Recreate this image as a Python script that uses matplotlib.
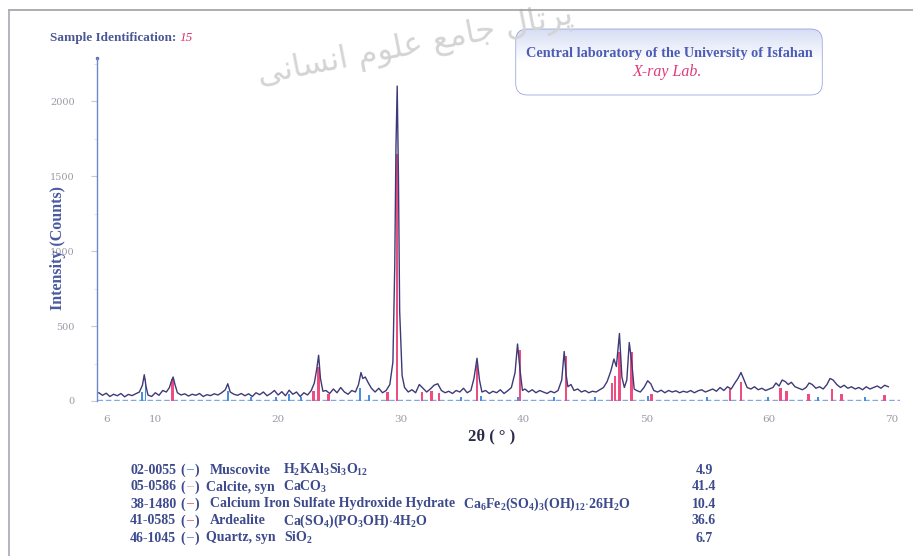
import matplotlib
matplotlib.use("Agg")
import matplotlib.pyplot as plt
from matplotlib.patches import FancyBboxPatch
import numpy as np

plt.rcParams['font.family'] = ['Liberation Serif', 'DejaVu Serif']
plt.rcParams['mathtext.fontset'] = 'custom'
plt.rcParams['mathtext.rm'] = 'Liberation Serif:bold'
plt.rcParams['mathtext.it'] = 'Liberation Serif:italic:bold'
plt.rcParams['mathtext.bf'] = 'Liberation Serif:bold'

W, H = 913, 556

# measured pattern: 2-theta (deg) and counts
two_theta = [5.4, 5.7, 6.0, 6.3, 6.6, 6.9, 7.2, 7.5, 7.8, 8.1, 8.4, 8.7, 8.95, 9.1, 9.25, 9.4,
             9.7, 10.0, 10.3, 10.6, 10.9, 11.15, 11.3, 11.45, 11.6, 11.8, 12.1, 12.4, 12.7, 13.0,
             13.3, 13.6, 13.9, 14.2, 14.5, 14.8, 15.1, 15.4, 15.7, 15.9, 16.1, 16.4, 16.7, 17.0,
             17.3, 17.6, 17.9, 18.2, 18.5, 18.8, 19.1, 19.4, 19.7, 20.0, 20.3, 20.6, 20.9, 21.2,
             21.5, 21.8, 22.1, 22.4, 22.7, 22.95, 23.15, 23.3, 23.45, 23.65, 23.9, 24.2, 24.5,
             24.8, 25.1, 25.4, 25.7, 26.0, 26.3, 26.55, 26.75, 26.9, 27.1, 27.35, 27.6, 27.9,
             28.2, 28.5, 28.8, 29.1, 29.35, 29.5, 29.6, 29.7, 29.8, 29.9, 30.1, 30.3, 30.6, 30.9,
             31.2, 31.5, 31.8, 32.1, 32.4, 32.7, 33.0, 33.3, 33.6, 33.9, 34.2, 34.5, 34.8, 35.1,
             35.4, 35.7, 35.95, 36.2, 36.4, 36.6, 36.9, 37.2, 37.5, 37.8, 38.1, 38.4, 38.7, 39.0,
             39.3, 39.5, 39.7, 39.9, 40.1, 40.4, 40.7, 41.0, 41.3, 41.6, 41.9, 42.2, 42.5, 42.8,
             43.1, 43.3, 43.45, 43.6, 43.85, 44.1, 44.4, 44.7, 45.0, 45.3, 45.6, 45.9, 46.2, 46.5,
             46.8, 47.1, 47.35, 47.55, 47.8, 48.0, 48.2, 48.4, 48.6, 48.8, 49.0, 49.2, 49.5, 49.8,
             50.1, 50.35, 50.6, 50.9, 51.2, 51.5, 51.8, 52.1, 52.4, 52.7, 53.0, 53.3, 53.6, 53.9,
             54.2, 54.5, 54.8, 55.1, 55.4, 55.7, 56.0, 56.3, 56.6, 56.9, 57.2, 57.45, 57.7, 57.95,
             58.2, 58.5, 58.8, 59.1, 59.4, 59.7, 60.0, 60.3, 60.55, 60.8, 61.05, 61.3, 61.55, 61.8,
             62.1, 62.4, 62.7, 63.0, 63.25, 63.5, 63.8, 64.1, 64.4, 64.7, 64.95, 65.2, 65.5, 65.8,
             66.1, 66.4, 66.7, 67.0, 67.3, 67.6, 67.9, 68.2, 68.5, 68.8, 69.1, 69.4, 69.7]
counts = [55, 38, 52, 30, 45, 35, 50, 28, 44, 36, 48, 60, 105, 175, 95, 40,
          30, 55, 38, 70, 60, 90, 130, 160, 110, 55, 40, 48, 33, 45,
          38, 50, 30, 42, 36, 48, 40, 55, 75, 115, 60, 45, 38, 50,
          35, 48, 30, 55, 42, 60, 35, 50, 70, 40, 62, 35, 72, 45,
          60, 30, 55, 40, 70, 120, 215, 305, 150, 65, 70, 50, 80,
          55, 90, 60, 45, 70, 60, 110, 190, 150, 160, 120, 85, 60,
          85, 55, 70, 110, 260, 900, 1700, 2100, 1500, 600, 170, 90, 60, 75,
          55, 110, 85, 60, 80, 105, 115, 70, 55, 65, 50, 70, 60, 85,
          55, 70, 150, 285, 140, 60, 70, 50, 65, 55, 75, 50, 68, 90,
          190, 380, 210, 70, 80, 60, 75, 55, 70, 60, 50, 65, 55, 70,
          140, 330, 180, 95, 110, 70, 80, 60, 70, 55, 65, 60, 75, 90,
          130, 200, 280, 230, 450, 160, 90, 140, 390, 260, 80, 70, 60, 90,
          135, 115, 70, 60, 72, 55, 70, 60, 68, 55, 65, 58, 70, 55,
          68, 75, 60, 70, 80, 65, 90, 70, 95, 80, 120, 150, 190, 140,
          90, 80, 95, 75, 85, 70, 80, 90, 120, 100, 140, 130, 110, 125,
          95, 85, 75, 90, 120, 110, 85, 95, 80, 110, 150, 140, 110, 90,
          105, 85, 95, 80, 90, 75, 95, 80, 90, 100, 85, 105, 95]

# reference sticks (pink: calcite / ardealite / CISHH), blue: muscovite / quartz
pink_pos = [11.4, 20.9, 22.9, 23.3, 24.1, 28.9, 29.7, 31.7, 32.5, 33.1, 36.2, 39.7, 43.45,
            47.2, 47.45, 47.8, 48.8, 50.4, 56.8, 57.7, 60.9, 61.4, 63.2, 65.1, 65.9, 69.4]
pink_h = [150, 40, 70, 230, 45, 60, 1650, 60, 70, 55, 240, 340, 300,
          120, 170, 330, 330, 50, 80, 130, 90, 70, 45, 80, 45, 40]
blue_pos = [8.9, 9.2, 15.9, 17.8, 19.8, 20.9, 21.9, 26.7, 27.4, 34.9, 36.5, 39.5, 42.5,
            45.8, 50.1, 54.9, 59.9, 64.0, 67.8]
blue_h = [60, 150, 70, 25, 30, 45, 30, 90, 40, 30, 35, 30, 25, 30, 35, 25, 30, 25, 30]

y_ticks = [0, 500, 1000, 1500, 2000]
x_ticks = [6, 10, 20, 30, 40, 50, 60, 70]

phase_codes = ['02-0055', '05-0586', '38-1480', '41-0585', '46-1045']
phase_names = ['Muscovite', 'Calcite, syn', 'Calcium Iron Sulfate Hydroxide Hydrate',
               'Ardealite', 'Quartz, syn']
phase_formulas = [r'H$_\mathrm{2}$KAl$_\mathrm{3}$Si$_\mathrm{3}$O$_\mathrm{12}$',
                  r'CaCO$_\mathrm{3}$',
                  r'Ca$_\mathrm{6}$Fe$_\mathrm{2}$(SO$_\mathrm{4}$)$_\mathrm{3}$(OH)$_\mathrm{12}$$\cdot$26H$_\mathrm{2}$O',
                  r'Ca(SO$_\mathrm{4}$)(PO$_\mathrm{3}$OH)$\cdot$4H$_\mathrm{2}$O',
                  r'SiO$_\mathrm{2}$']
phase_scores = ['4.9', '41.4', '10.4', '36.6', '6.7']
phase_colors = ['#3f7fd6', '#e2a9bf', '#e8457a', '#e04a80', '#4a80d0']


def px(x, y):
    return x / W, 1 - y / H


fig = plt.figure(figsize=(W / 100, H / 100), dpi=100)
fig.patch.set_facecolor('white')

# page frame
fig.add_artist(plt.Line2D([px(9, 0)[0], 1], [px(0, 10)[1]] * 2, color='#a0a0a0', lw=1.2))
fig.add_artist(plt.Line2D([px(9, 0)[0]] * 2, [px(0, 10)[1], 0], color='#a8a8b8', lw=1.2))

# watermark
words = ['\ufb58\ufeae\ufe97\ufe8e\ufedd', '\ufe9f\ufe8e\ufee3\ufeca',
         '\ufecb\ufee0\ufeee\ufee1', '\ufe8d\ufee7\ufeb4\ufe8e\ufee7\ufef0']
mark = ' '.join(words)[::-1]
fig.text(*px(415, 46), mark, family='DejaVu Sans', fontsize=23, color='#d4d4d4',
         rotation=11, ha='center', va='center', zorder=0)

# chart
left, right, top, bottom = 97, 900, 58, 401
ax = fig.add_axes([left / W, 1 - bottom / H, (right - left) / W, (bottom - top) / H])
ax.set_facecolor('none')
ax.set_xlim(5.25, 70.65)
ax.set_ylim(0, 2287)

ax.bar(pink_pos, pink_h, width=0.2, color='#ef4d82', zorder=2)
ax.bar(blue_pos, blue_h, width=0.16, color='#4a8ee0', zorder=2)
ax.axhline(8, color='#7fa8e8', lw=1.0, ls=(0, (4, 2)), zorder=1)
ax.plot(two_theta, counts, color='#3d3a78', lw=1.0, zorder=3)

for s in ['top', 'right', 'bottom']:
    ax.spines[s].set_visible(False)
ax.spines['left'].set_color('#6f86c8')
ax.spines['left'].set_linewidth(1.0)
ax.plot([5.25], [2287], marker='.', color='#5a6aa8', ms=3, clip_on=False)

ax.set_yticks(y_ticks)
ax.set_yticklabels([str(v) for v in y_ticks], family='DejaVu Serif')
ax.set_yticks(np.arange(0, 2287, 250), minor=True)
ax.tick_params(axis='y', which='major', length=4, width=0.8, color='#c8c8d0',
               labelsize=7, labelcolor='#9a9aa6', pad=12)
ax.tick_params(axis='y', which='minor', length=2.5, width=0.6, color='#dcdce2')
ax.set_xticks(x_ticks)
ax.set_xticklabels([str(v) for v in x_ticks], family='DejaVu Serif')
ax.tick_params(axis='x', length=0, labelsize=7.5, labelcolor='#9a9aa6', pad=10)

ax.set_xlabel('2\u03b8 ( \u00b0 )', fontsize=12, fontweight='bold', color='#2c2c4a')
ax.xaxis.set_label_coords((492 - left) / (right - left), -(428 - bottom) / (bottom - top))
fig.text(*px(58, 248), 'Intensity (Counts)', rotation=90, fontsize=11.5,
         fontweight='bold', color='#4a5aa0', ha='center', va='center')

# header
t = fig.text(*px(50, 38), 'Sample Identification: ', fontsize=9.5, fontweight='bold',
             color='#4b5896', va='center')
fig.canvas.draw()
bb = t.get_window_extent()
fig.text(bb.x1 / W, px(0, 38)[1], '15', fontsize=9.5, style='italic', color='#e0306a',
         va='center')

# lab box with light gradient along its top
bx0, by0, bx1, by1 = 513, 28, 825, 96
bax = fig.add_axes([bx0 / W, 1 - by1 / H, (bx1 - bx0) / W, (by1 - by0) / H])
bax.set_xlim(0, 1)
bax.set_ylim(0, 1)
bax.axis('off')
box = FancyBboxPatch((0.01, 0.02), 0.98, 0.96, boxstyle='round,pad=0,rounding_size=0.035',
                     transform=bax.transAxes, facecolor='white', edgecolor='#8a96d8',
                     lw=1.0, mutation_aspect=(bx1 - bx0) / (by1 - by0))
bax.add_patch(box)
grad = np.linspace(0, 1, 100)[:, None]
cmap = matplotlib.colors.LinearSegmentedColormap.from_list('g', ['#d6def4', '#ffffff', '#ffffff'])
im = bax.imshow(grad, extent=[0, 1, 0, 1], origin='upper', cmap=cmap, aspect='auto', zorder=1)
im.set_clip_path(box)
bax.text(0.5, 1 - (54 - by0) / (by1 - by0), 'Central laboratory of the University of Isfahan',
         fontsize=10.3, fontweight='bold', color='#4d5cb4', ha='center', va='center', zorder=3)
bax.text(0.495, 1 - (72 - by0) / (by1 - by0), 'X-ray Lab.', fontsize=11.5, style='italic',
         color='#e03a78', ha='center', va='center', zorder=3)

# phase list
row_y = [470, 487, 504, 521, 538]
name_x = [210, 206, 210, 210, 206]
txt = '#3d4a8c'
fs = 10
for i in range(5):
    y = row_y[i]
    fig.text(*px(130, y), phase_codes[i], fontsize=fs, fontweight='bold', color=txt, va='center')
    fig.text(*px(180, y), '(', fontsize=fs, fontweight='bold', color=txt, va='center')
    fig.text(*px(189.5, y), '\u2013', fontsize=fs, fontweight='bold', color=phase_colors[i],
             va='center', ha='center')
    fig.text(*px(195, y), ')', fontsize=fs, fontweight='bold', color=txt, va='center')
    n = fig.text(*px(name_x[i], y), phase_names[i], fontsize=fs, fontweight='bold',
                 color=txt, va='center')
    fig.canvas.draw()
    name_end = n.get_window_extent().x1
    fx = max(283, name_end + 8)
    fig.text(fx / W, px(0, y)[1], phase_formulas[i], fontsize=fs, fontweight='bold',
             color=txt, va='center')
    fig.text(*px(704, y), phase_scores[i], fontsize=10, fontweight='bold', color=txt,
             va='center', ha='center')

fig.savefig('out.png', dpi=100)
